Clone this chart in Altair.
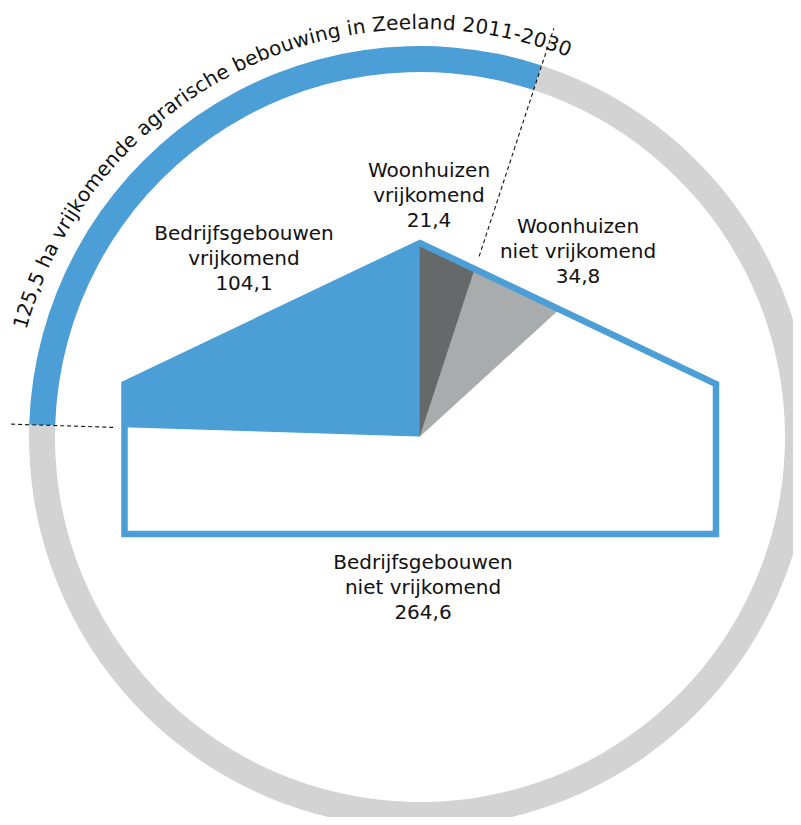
import math
import altair as alt
import pandas as pd

# ---------------- data ----------------
categories = ["Bedrijfsgebouwen vrijkomend", "Woonhuizen vrijkomend",
              "Woonhuizen niet vrijkomend", "Bedrijfsgebouwen niet vrijkomend"]
values = [104.1, 21.4, 34.8, 264.6]
label_lines = [["Bedrijfsgebouwen", "vrijkomend", "104,1"],
               ["Woonhuizen", "vrijkomend", "21,4"],
               ["Woonhuizen", "niet vrijkomend", "34,8"],
               ["Bedrijfsgebouwen", "niet vrijkomend", "264,6"]]
ring_groups = ["vrijkomend", "niet vrijkomend"]
ring_values = [values[0] + values[1], values[2] + values[3]]
title_text = "125,5 ha vrijkomende agrarische bebouwing in Zeeland 2011-2030"

# ---------------- layout / style ----------------
OFF = 8
W, H = 785, 809
CX, CY = 420.0, 437.0
R_OUT, R_IN = 391, 365
L, R, EAVE, APEX_X, APEX_Y, BOTTOM = 124.5, 716.0, 384.0, 420.0, 243.0, 534.0
BLUE, DARK, LIGHT, WHITE, RING_GREY = "#4C9FD6", "#65696A", "#A9ACAD", "#FFFFFF", "#D2D3D2"
slice_fill = [BLUE, DARK, LIGHT, WHITE]
ring_fill = [BLUE, RING_GREY]
FONT = "DejaVu Sans"
LABEL_SIZE = 20
LINE_H = 25
label_pos = [(244, 240), (429, 177), (578, 233), (423, 569)]
TITLE_SIZE = 20
TITLE_R = 408
TITLE_START = 285.2
TITLE_TRACK = 0.15

total = sum(values)
start = -values[0] / total * 360.0
bounds = [start]
for v in values:
    bounds.append(bounds[-1] + v / total * 360.0)

house = [(L, BOTTOM), (L, EAVE), (APEX_X, APEX_Y), (R, EAVE), (R, BOTTOM)]
edges = list(zip(house, house[1:] + house[:1]))


def ray_hit(a):
    dx, dy = math.sin(math.radians(a)), -math.cos(math.radians(a))
    best = None
    for (x1, y1), (x2, y2) in edges:
        ex, ey = x2 - x1, y2 - y1
        px, py = x1 - CX, y1 - CY
        det = -dx * ey + ex * dy
        if abs(det) < 1e-12:
            continue
        t = (-px * ey + ex * py) / det
        s = (dx * py - dy * px) / det
        if t > 1e-9 and -1e-9 <= s <= 1 + 1e-9:
            if best is None or t < best:
                best = t
    return (CX + dx * best, CY + dy * best)


def vangle(p):
    return math.degrees(math.atan2(p[0] - CX, CY - p[1])) % 360


area_rows = []
for i, cat in enumerate(categories):
    s, e = bounds[i], bounds[i + 1]
    inner = []
    for p in house:
        th = vangle(p)
        for cand in (th, th - 360, th + 360):
            if s + 1e-6 < cand < e - 1e-6:
                inner.append((cand, p))
    inner.sort()
    poly = [(CX, CY), ray_hit(s)] + [p for _, p in inner] + [ray_hit(e)]
    pedges = list(zip(poly, poly[1:] + poly[:1]))
    xs_ = sorted(set(round(p[0], 6) for p in poly))
    for x in xs_:
        ys_ = []
        for (x1, y1), (x2, y2) in pedges:
            if abs(x1 - x2) < 1e-6:
                if abs(x1 - x) < 1e-4:
                    ys_ += [y1, y2]
            elif min(x1, x2) - 1e-4 <= x <= max(x1, x2) + 1e-4:
                ys_.append(y1 + (y2 - y1) * (x - x1) / (x2 - x1))
        area_rows.append({"cat": cat, "x": x, "y": min(ys_), "y2": max(ys_),
                          "fill": slice_fill[i]})
area_df = pd.DataFrame(area_rows)

# ring
ring_rows = []
acc = math.radians(start)
for g, v, f in zip(ring_groups, ring_values, ring_fill):
    span = v / total * 2 * math.pi
    ring_rows.append({"group": g, "t0": acc, "t1": acc + span, "fill": f})
    acc += span
ring_df = pd.DataFrame(ring_rows)

# dashed lines at the vrijkomend / niet vrijkomend borders
dash_rows = []
for a, r0, r1 in [(bounds[0], 307, 410), (bounds[2], 190, 430)]:
    sa, ca = math.sin(math.radians(a)), math.cos(math.radians(a))
    dash_rows.append({"x": CX + r0 * sa, "y": CY - r0 * ca,
                      "x2": CX + r1 * sa, "y2": CY - r1 * ca})
dash_df = pd.DataFrame(dash_rows)

# house outline (path starts mid-bottom so every corner is a join)
mid_bottom = ((L + R) / 2, BOTTOM)
outline = [mid_bottom] + house + [mid_bottom]
outline_df = pd.DataFrame({"x": [p[0] for p in outline], "y": [p[1] for p in outline],
                           "o": list(range(len(outline)))})

# labels
lab_rows = []
for (lx, ly), lines in zip(label_pos, label_lines):
    for k, t in enumerate(lines):
        lab_rows.append({"x": lx, "y": ly + k * LINE_H, "text": t})
lab_df = pd.DataFrame(lab_rows)

# curved title
cw = {" ": .318, ",": .318, "-": .361, "0": .636, "1": .636, "2": .636, "3": .636,
      "5": .636, "a": .613, "b": .635, "c": .550, "d": .635, "e": .615, "g": .635,
      "h": .634, "i": .278, "j": .278, "k": .579, "l": .278, "m": .974, "n": .634,
      "o": .612, "r": .411, "s": .521, "u": .634, "v": .592, "w": .818, "Z": .686}
title_rows = []
pos = 0.0
for ch in title_text:
    w = cw.get(ch, 0.6) * TITLE_SIZE
    mid = pos + w / 2
    ang = TITLE_START + math.degrees(mid / TITLE_R)
    title_rows.append({"x": CX + TITLE_R * math.sin(math.radians(ang)),
                       "y": CY - TITLE_R * math.cos(math.radians(ang)),
                       "ang": ang % 360, "ch": ch})
    pos += w + TITLE_TRACK
title_df = pd.DataFrame(title_rows)

xs = alt.Scale(domain=[OFF, OFF + W], nice=False, zero=False)
ys = alt.Scale(domain=[OFF, OFF + H], nice=False, zero=False, reverse=True)

ring = alt.Chart(ring_df).mark_arc(radius=R_OUT, radius2=R_IN).encode(
    theta=alt.Theta("t0:Q", scale=None),
    theta2="t1:Q",
    color=alt.Color("fill:N", scale=None),
    x=alt.value(CX - OFF), y=alt.value(CY - OFF),
)

dashes = alt.Chart(dash_df).mark_rule(color="#111111", strokeWidth=1.1, strokeDash=[4, 3]).encode(
    x=alt.X("x:Q", scale=xs, axis=None),
    y=alt.Y("y:Q", scale=ys, axis=None),
    x2="x2:Q", y2="y2:Q",
)

slices = alt.Chart(area_df).mark_area(orient="vertical", strokeWidth=0.8).encode(
    x=alt.X("x:Q", scale=xs, axis=None),
    y=alt.Y("y:Q", scale=ys, axis=None, stack=None),
    y2="y2:Q",
    color=alt.Color("fill:N", scale=None),
    stroke=alt.Stroke("fill:N", scale=None),
    detail="cat:N",
)

house_line = alt.Chart(outline_df).mark_line(color=BLUE, strokeWidth=6.5, strokeJoin="miter").encode(
    x=alt.X("x:Q", scale=xs, axis=None),
    y=alt.Y("y:Q", scale=ys, axis=None),
    order="o:Q",
)

labels = alt.Chart(lab_df).mark_text(font=FONT, fontSize=LABEL_SIZE, color="#111111",
                                     align="center", baseline="alphabetic").encode(
    x=alt.X("x:Q", scale=xs, axis=None),
    y=alt.Y("y:Q", scale=ys, axis=None),
    text="text:N",
)

title = alt.Chart(title_df).mark_text(font=FONT, fontSize=TITLE_SIZE, color="#111111",
                                      align="center", baseline="alphabetic").encode(
    x=alt.X("x:Q", scale=xs, axis=None),
    y=alt.Y("y:Q", scale=ys, axis=None),
    angle=alt.Angle("ang:Q", scale=None),
    text="ch:N",
)

chart = alt.layer(ring, slices, house_line, dashes, labels, title).properties(
    width=W, height=H, padding=0, autosize=alt.AutoSizeParams(type="none"),
    background="white",
).configure_view(stroke=None)

chart.save("out.html", embed_options={"renderer": "svg", "actions": False})
